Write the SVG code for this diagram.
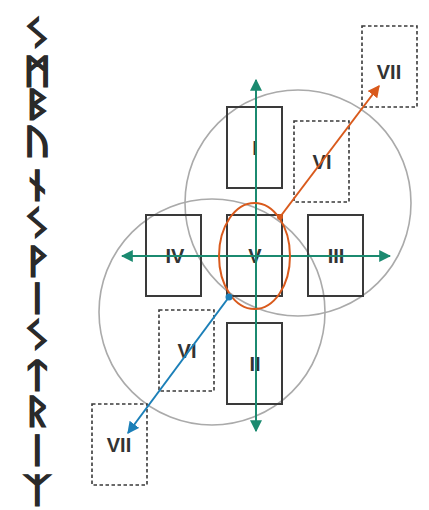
<svg xmlns="http://www.w3.org/2000/svg" width="429" height="510" viewBox="0 0 429 510">
<defs>
<style>
.box{fill:none;stroke:#3a3a3a;stroke-width:2}
.dbox{fill:none;stroke:#3a3a3a;stroke-width:1.6;stroke-dasharray:3.5 2.5}
.lbl{font-family:"Liberation Sans",Arial,sans-serif;font-weight:bold;font-size:20px;fill:#333;text-anchor:middle}
.rune{font-family:"DejaVu Sans","Noto Sans",sans-serif;font-weight:bold;font-size:34px;fill:#2a2a2a;stroke:#2a2a2a;stroke-width:1;text-anchor:middle}
.circ{fill:none;stroke:#aaa;stroke-width:1.6}
.axis{stroke:#1b8a70;stroke-width:2;fill:none}
</style>
<marker id="ag" viewBox="0 0 10 10" refX="9" refY="5" markerWidth="6" markerHeight="6" orient="auto"><path d="M0,0 L10,5 L0,10 Z" fill="#1b8a70"/></marker>
<marker id="ao" viewBox="0 0 10 10" refX="9" refY="5" markerWidth="6" markerHeight="6" orient="auto"><path d="M0,0 L10,5 L0,10 Z" fill="#d95a1c"/></marker>
<marker id="ab" viewBox="0 0 10 10" refX="9" refY="5" markerWidth="6" markerHeight="6" orient="auto"><path d="M0,0 L10,5 L0,10 Z" fill="#1b7fb8"/></marker>
</defs>
<g id="runes" transform="translate(37,0) scale(1.4,1)">
<text class="rune" x="0" y="45">ᛊ</text>
<text class="rune" x="0" y="83">ᛗ</text>
<text class="rune" x="0" y="116">ᛒ</text>
<text class="rune" x="0" y="153">ᚢ</text>
<text class="rune" x="0" y="197">ᚾ</text>
<text class="rune" x="0" y="235">ᛊ</text>
<text class="rune" x="0" y="273">ᚹ</text>
<text class="rune" x="0" y="310">ᛁ</text>
<text class="rune" x="0" y="347">ᛊ</text>
<text class="rune" x="0" y="387">ᛏ</text>
<text class="rune" x="0" y="423">ᚱ</text>
<text class="rune" x="0" y="462">ᛁ</text>
<text class="rune" x="0" y="502">ᛉ</text>
</g>
<g id="circles">
<circle class="circ" cx="298" cy="203" r="113"/>
<circle class="circ" cx="212" cy="312" r="113"/>
</g>
<g id="node-I"><rect class="box" x="227" y="107" width="55" height="81"/><text class="lbl" x="255" y="155">I</text></g>
<g id="node-V"><rect class="box" x="227" y="215" width="55" height="81"/><text class="lbl" x="255" y="263">V</text></g>
<g id="node-IV"><rect class="box" x="146" y="215" width="55" height="81"/><text class="lbl" x="175" y="263">IV</text></g>
<g id="node-III"><rect class="box" x="308" y="215" width="55" height="81"/><text class="lbl" x="336" y="263">III</text></g>
<g id="node-II"><rect class="box" x="227" y="323" width="55" height="81"/><text class="lbl" x="255" y="371">II</text></g>
<g id="node-VI-upper"><rect class="dbox" x="294" y="121" width="55" height="81"/><text class="lbl" x="322" y="169">VI</text></g>
<g id="node-VII-upper"><rect class="dbox" x="362" y="26" width="55" height="81"/><text class="lbl" x="389" y="79">VII</text></g>
<g id="node-VI-lower"><rect class="dbox" x="159" y="310" width="55" height="81"/><text class="lbl" x="187" y="358">VI</text></g>
<g id="node-VII-lower"><rect class="dbox" x="92" y="404" width="55" height="81"/><text class="lbl" x="119" y="452">VII</text></g>
<g id="connectors">
<line class="axis" x1="256" y1="430" x2="256" y2="80" marker-end="url(#ag)"/>
<line class="axis" x1="256" y1="80" x2="256" y2="431" marker-end="url(#ag)"/>
<line class="axis" x1="122" y1="256" x2="390" y2="256" marker-end="url(#ag)"/>
<line class="axis" x1="390" y1="256" x2="122" y2="256" marker-end="url(#ag)"/>
<ellipse cx="254.5" cy="256" rx="35.5" ry="53" fill="none" stroke="#d95a1c" stroke-width="2"/>
<circle cx="280" cy="217" r="3" fill="#d95a1c"/>
<line x1="280" y1="217" x2="379" y2="86" stroke="#d95a1c" stroke-width="2" marker-end="url(#ao)"/>
<circle cx="229" cy="297" r="3.5" fill="#1b7fb8"/>
<line x1="229" y1="297" x2="128" y2="433" stroke="#1b7fb8" stroke-width="2" marker-end="url(#ab)"/>
</g>
</svg>
